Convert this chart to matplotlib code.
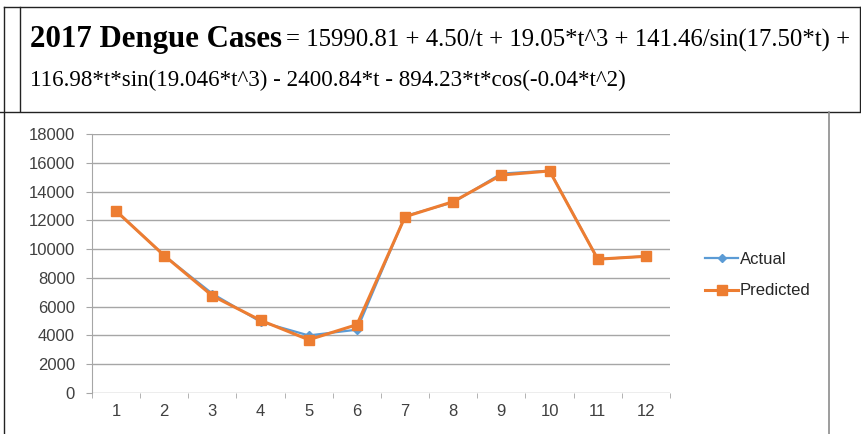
import matplotlib
matplotlib.use("Agg")
import matplotlib.pyplot as plt
from matplotlib.lines import Line2D
from matplotlib.ticker import FixedLocator

# 2017 dengue cases, monthly actual vs model prediction
months = list(range(1, 13))
actual = [12650, 9550, 6900, 4950, 4000, 4400, 12300, 13250, 15250, 15450, 9300, 9500]
predicted = [12650, 9550, 6750, 5050, 3700, 4750, 12250, 13300, 15150, 15430, 9300, 9500]
y_ticks = [0, 2000, 4000, 6000, 8000, 10000, 12000, 14000, 16000, 18000]
title_main = "2017 Dengue Cases"
title_rest1 = "= 15990.81 + 4.50/t + 19.05*t^3 + 141.46/sin(17.50*t) +"
title_rest2 = "116.98*t*sin(19.046*t^3) - 2400.84*t - 894.23*t*cos(-0.04*t^2)"

W, H = 862, 434
BLUE = "#5B9BD5"
ORANGE = "#ED7D31"
GRID = "#A6A6A6"
LABEL = "#404040"


def fx(x):
    return x / W


def fy(y):
    return 1 - y / H


fig = plt.figure(figsize=(W / 100, H / 100), dpi=100)
renderer = fig.canvas.get_renderer()


def fit(t, target_w):
    bb = t.get_window_extent(renderer)
    t.set_fontsize(t.get_fontsize() * target_w / bb.width)
    return t.get_window_extent(renderer)


# frame lines round the equation box and the chart
def frame(x0, y0, x1, y1, color="#222222", lw=1.0):
    fig.add_artist(Line2D([fx(x0), fx(x1)], [fy(y0), fy(y1)], color=color, lw=lw))


frame(4, 7, 860, 7)
frame(20, 7, 20, 111)
frame(860, 7, 860, 111)
frame(0, 111.5, 860, 111.5)
frame(4, 7, 4, 434)
frame(829, 112, 829, 434, color="#8C8C8C", lw=1.2)

# equation title
t1 = fig.text(fx(30), fy(47), title_main, fontsize=22, fontweight="bold",
              family="Liberation Serif", va="baseline", ha="left")
fit(t1, 252)
t2 = fig.text(fx(286), fy(47), title_rest1, fontsize=16,
              family="Liberation Serif", va="baseline", ha="left")
fit(t2, 850 - 286)
t3 = fig.text(fx(30), fy(86), title_rest2, fontsize=16,
              family="Liberation Serif", va="baseline", ha="left")
fit(t3, 625 - 30)

# plot area
ax = fig.add_axes([fx(92), fy(393), (670 - 92) / W, (393 - 134) / H])
ax.plot(months, actual, color=BLUE, lw=1.6, marker="D", markersize=4.5,
        label="Actual", zorder=3)
ax.plot(months, predicted, color=ORANGE, lw=2.2, marker="s", markersize=7,
        label="Predicted", zorder=4)

ax.set_xlim(0.5, 12.5)
ax.set_ylim(0, 18000)
ax.set_yticks(y_ticks)
ax.set_xticks(months)
ax.xaxis.set_minor_locator(FixedLocator([m + 0.5 for m in [0] + months]))
ax.tick_params(axis="x", which="major", length=0, pad=8)
ax.tick_params(axis="x", which="minor", length=3.5, color=GRID, direction="out")
ax.tick_params(axis="y", length=4.3, color=GRID, direction="out", pad=8)
for lab in ax.get_xticklabels() + ax.get_yticklabels():
    lab.set_family("Liberation Sans")
    lab.set_fontsize(12)
    lab.set_color(LABEL)

ax.grid(axis="y", color=GRID, lw=1.0)
ax.set_axisbelow(True)
for side in ["top", "right", "bottom"]:
    ax.spines[side].set_visible(False)
ax.spines["left"].set_color(GRID)

leg = ax.legend(loc="center left", bbox_to_anchor=(fx(690), fy(275)),
                bbox_transform=fig.transFigure, frameon=False,
                prop={"family": "Liberation Sans", "size": 12},
                handlelength=2.0, handletextpad=0.1, labelspacing=1.0)
for text in leg.get_texts():
    text.set_color("#262626")

fig.savefig("out.png", dpi=100)
